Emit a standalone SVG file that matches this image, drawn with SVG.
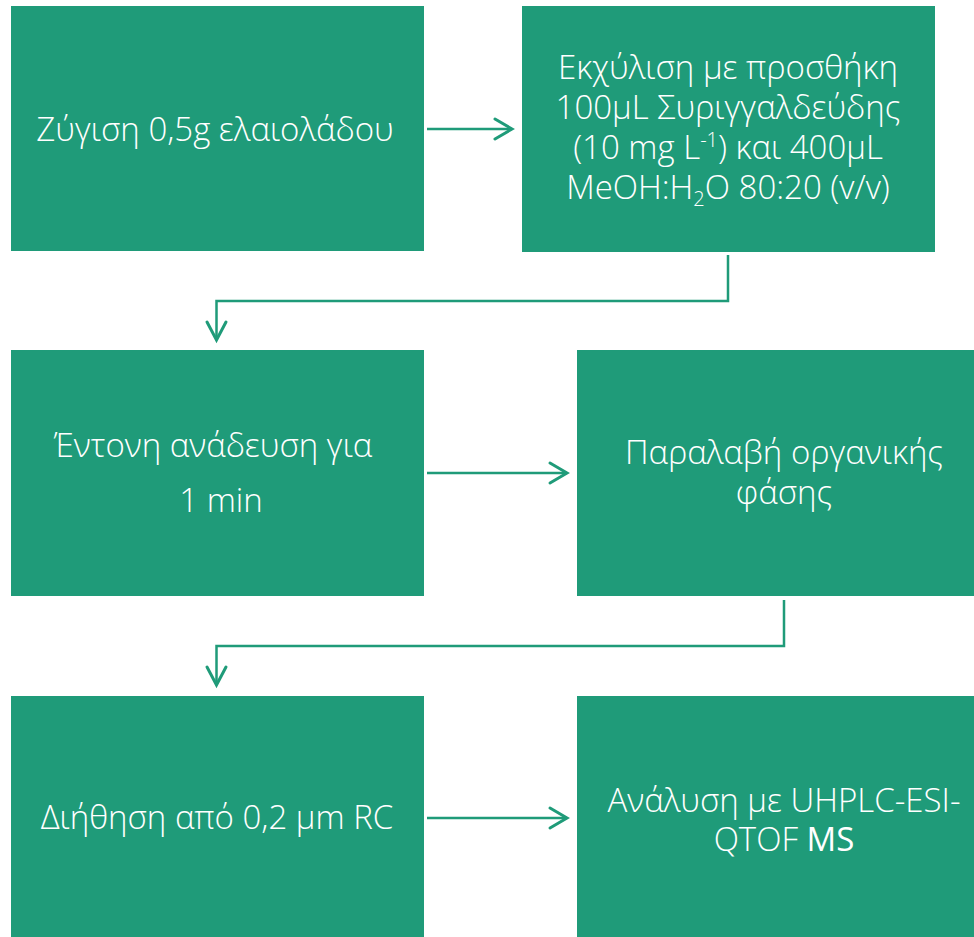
<svg xmlns="http://www.w3.org/2000/svg" width="974" height="937" viewBox="0 0 974 937">
<style>
.box{fill:#1f9b79}
.t{font-family:"Open Sans","Noto Sans","Liberation Sans",sans-serif;font-weight:300;font-size:33px;fill:#ffffff;text-anchor:middle}
.b{font-weight:400}
.c{fill:none;stroke:#1f9b79;stroke-width:2.5}
.h{fill:none;stroke:#1f9b79;stroke-width:3;stroke-linecap:round}
</style>
<g id="n1"><rect class="box" x="11" y="6" width="413" height="245"/><text class="t" x="215" y="141">Ζύγιση 0,5g ελαιολάδου</text></g>
<g id="n2"><rect class="box" x="522" y="6" width="413" height="246"/>
<text class="t" x="728" y="79">Εκχύλιση με προσθήκη</text>
<text class="t" x="728" y="119">100μL Συριγγαλδεύδης</text>
<text class="t" x="728" y="159">(10 mg L<tspan font-size="20" dy="-12">-1</tspan><tspan dy="12">) και 400μL</tspan></text>
<text class="t" x="728" y="199">MeOH:H<tspan font-size="20" dy="7">2</tspan><tspan dy="-7">O 80:20 (v/v)</tspan></text>
</g>
<g id="n3"><rect class="box" x="11" y="350" width="413" height="246"/>
<text class="t" x="213" y="457">Έντονη ανάδευση για</text>
<text class="t" x="221" y="512">1 min</text>
</g>
<g id="n4"><rect class="box" x="577" y="350" width="397" height="246"/>
<text class="t" x="784" y="464">Παραλαβή οργανικής</text>
<text class="t" x="784" y="504">φάσης</text>
</g>
<g id="n5"><rect class="box" x="11" y="696" width="413" height="241"/>
<text class="t" x="217" y="829">Διήθηση από 0,2 μm RC</text>
</g>
<g id="n6"><rect class="box" x="577" y="696" width="397" height="241"/>
<text class="t" x="784" y="812">Ανάλυση με UHPLC-ESI-</text>
<text class="t" x="784" y="851">QTOF <tspan class="b">MS</tspan></text>
</g>
<g id="connectors">
<path class="c" d="M427,129 L512,129"/>
<path class="h" d="M495,119 L512,129 L495,139"/>
<path class="c" d="M728,255 L728,301 L216.5,301 L216.5,340"/>
<path class="h" d="M207,322 L216.5,340 L226,322"/>
<path class="c" d="M427,473 L567,473"/>
<path class="h" d="M550,463 L567,473 L550,483"/>
<path class="c" d="M784,600 L784,646 L216.5,646 L216.5,685"/>
<path class="h" d="M207,667 L216.5,685 L226,667"/>
<path class="c" d="M427,818 L567,818"/>
<path class="h" d="M550,808 L567,818 L550,828"/>
</g>
</svg>
